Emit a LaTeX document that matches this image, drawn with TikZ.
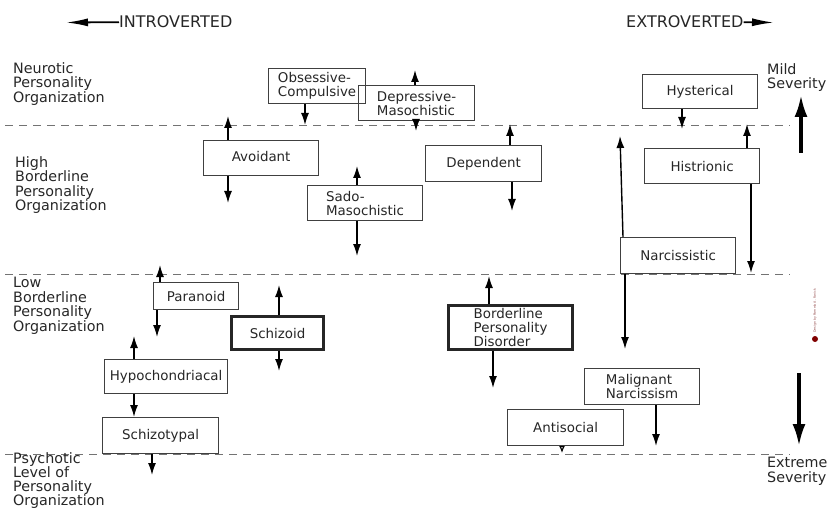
\documentclass[tikz,border=0pt]{standalone}
\usepackage{fontspec}
\setmainfont{DejaVu Sans}
\usetikzlibrary{arrows.meta}
\begin{document}
\begin{tikzpicture}[x=1pt,y=-1pt,
  every node/.style={text=black!85},
  bx/.style={draw=black!75, line width=1.2pt, anchor=north west, inner ysep=1pt, align=left,
    font=\fontsize{13.4}{14}\selectfont},
  thk/.style={line width=3.2pt, draw=black!85},
  arr/.style={-{Latex[length=12pt,width=8pt]}, line width=1.4pt, draw=black},
  sarr/.style={-{Latex[length=7pt,width=6pt,open]}, line width=1.2pt, draw=black},
  bigarr/.style={-{Latex[length=22pt,width=13pt]}, line width=3.5pt, draw=black},
  harr/.style={-{Latex[length=22pt,width=8pt]}, line width=1.8pt, draw=black},
  sep/.style={dash pattern=on 8pt off 6pt, draw=black!55, line width=1pt},
  lbl/.style={anchor=north west, align=left, inner sep=0pt, font=\fontsize{14.3}{14.6}\selectfont},
  hdr/.style={anchor=base west, inner sep=0pt, font=\fontsize{16}{17}\selectfont},
]
\useasboundingbox (0,0) rectangle (828,508);

% level separators
\coordinate (s1a) at (5,126);   \coordinate (s1b) at (790,126);
\coordinate (s2a) at (5,274);   \coordinate (s2b) at (790,274);
\coordinate (s3a) at (5,454);   \coordinate (s3b) at (790,454);
\draw[sep] (s1a) -- (s1b);
\draw[sep] (s2a) -- (s2b);
\draw[sep] (s3a) -- (s3b);

% headers
\node[hdr] (intro) at (119,28) {INTROVERTED};
\node[hdr] (extro) at (626,28) {EXTROVERTED};
\coordinate (ia) at (66,22.5);
\coordinate (ea) at (774,22.5);
\draw[harr] (intro.west) -- (ia);
\draw[harr] (extro.east) -- (ea);

% left level labels
\node[lbl] (lv1) at (13,62) {Neurotic\\Personality\\Organization};
\node[lbl] (lv2) at (15,156) {High\\Borderline\\Personality\\Organization};
\node[lbl] (lv3) at (13,277) {Low\\Borderline\\Personality\\Organization};
\node[lbl, font=\fontsize{14.3}{14}\selectfont] (lv4) at (13,452) {Psychotic\\Level of\\Personality\\Organization};

% severity labels
\node[lbl] (mild) at (767,63) {Mild\\Severity};
\node[lbl] (extr) at (767,457) {Extreme\\Severity};
\coordinate (m1) at (801,153); \coordinate (m2) at (801,95);
\coordinate (x1) at (799,373); \coordinate (x2) at (799,446);
\draw[bigarr] (m1) -- (m2);
\draw[bigarr] (x1) -- (x2);

% watermark
\node[rotate=90, anchor=west, inner sep=0pt, font=\fontsize{3.2}{4}\selectfont, text=red!40!black!70] (wm) at (815,333) {Design by Pamela A. Fanick};
\fill[red!50!black] (815,339) circle (3pt);

% boxes
\node[bx, minimum width=97pt, minimum height=35pt] (oc) at (268,68) {Obsessive-\\Compulsive};
\node[bx, minimum width=116pt, minimum height=35pt] (dm) at (358,85) {Depressive-\\Masochistic};
\node[bx, minimum width=115pt, minimum height=34pt, align=center] (hys) at (642,74) {Hysterical};
\node[bx, minimum width=115pt, minimum height=35pt, align=center] (av) at (203,140) {\raisebox{4pt}{Avoidant}};
\node[bx, minimum width=115pt, minimum height=35pt] (sm) at (307,185) {Sado-\\Masochistic};
\node[bx, minimum width=116pt, minimum height=36pt, align=center] (dep) at (425,145) {Dependent};
\node[bx, minimum width=115pt, minimum height=35pt, align=center] (his) at (644,148) {Histrionic};
\node[bx, minimum width=115pt, minimum height=36pt, align=center] (nar) at (620,237) {Narcissistic};
\node[bx, minimum width=85pt, minimum height=27pt, align=center] (par) at (153,282) {Paranoid};
\node[bx, thk, minimum width=92pt, minimum height=33pt, align=center] (szd) at (230,315) {Schizoid};
\node[bx, minimum width=123pt, minimum height=34pt, align=center] (hyp) at (104,359) {Hypochondriacal};
\node[bx, minimum width=116pt, minimum height=36pt, align=center] (szt) at (102,417) {Schizotypal};
\node[bx, thk, minimum width=124pt, minimum height=44pt] (bpd) at (447,304) {Borderline\\Personality\\Disorder};
\node[bx, minimum width=115pt, minimum height=36pt] (mn) at (584,368) {Malignant\\Narcissism};
\node[bx, minimum width=116pt, minimum height=36pt, align=center] (as) at (507,409) {Antisocial};

% free arrow ends
\coordinate (ocd) at (305,125);
\coordinate (dmu) at (415,70);
\coordinate (dmd) at (416,131);
\coordinate (hysd) at (682,129);
\coordinate (avu) at (228,116);
\coordinate (avd) at (228,203);
\coordinate (smu) at (357,166);
\coordinate (smd) at (357,256);
\coordinate (depu) at (510,124);
\coordinate (depd) at (512,211);
\coordinate (hisu) at (747,124);
\coordinate (hisd) at (751,273);
\coordinate (naru) at (620,136);
\coordinate (nars) at (623,237);
\coordinate (nard) at (625,349);
\coordinate (paru) at (160,265);
\coordinate (pard) at (157,337);
\coordinate (szdu) at (279,285);
\coordinate (szdd) at (279,371);
\coordinate (hypu) at (134,336);
\coordinate (hypx) at (134,0);
\coordinate (sztd) at (152,475);
\coordinate (bpdu) at (489,276);
\coordinate (bpdd) at (493,388);
\coordinate (mnd) at (656,446);
\coordinate (asd) at (562,453);

% arrows
\draw[arr] (oc.south -| ocd) -- (ocd);
\draw[arr] (dm.north -| dmu) -- (dmu);
\draw[arr] (dm.south -| dmd) -- (dmd);
\draw[arr] (hys.south -| hysd) -- (hysd);
\draw[arr] (av.north -| avu) -- (avu);
\draw[arr] (av.south -| avd) -- (avd);
\draw[arr] (sm.north -| smu) -- (smu);
\draw[arr] (sm.south -| smd) -- (smd);
\draw[arr] (dep.north -| depu) -- (depu);
\draw[arr] (dep.south -| depd) -- (depd);
\draw[arr] (his.north -| hisu) -- (hisu);
\draw[arr] (his.south -| hisd) -- (hisd);
\draw[arr] (nar.north -| nars) -- (naru);
\draw[arr] (nar.south -| nard) -- (nard);
\draw[arr] (par.north -| paru) -- (paru);
\draw[arr] (par.south -| pard) -- (pard);
\draw[arr] (szd.north -| szdu) -- (szdu);
\draw[arr] (szd.south -| szdd) -- (szdd);
\draw[arr] (hyp.north -| hypu) -- (hypu);
\draw[arr] (hyp.south -| hypx) -- (szt.north -| hypx);
\draw[arr] (szt.south -| sztd) -- (sztd);
\draw[arr] (bpd.north -| bpdu) -- (bpdu);
\draw[arr] (bpd.south -| bpdd) -- (bpdd);
\draw[arr] (mn.south -| mnd) -- (mnd);
\draw[sarr] (as.south -| asd) -- (asd);
\end{tikzpicture}
\end{document}
